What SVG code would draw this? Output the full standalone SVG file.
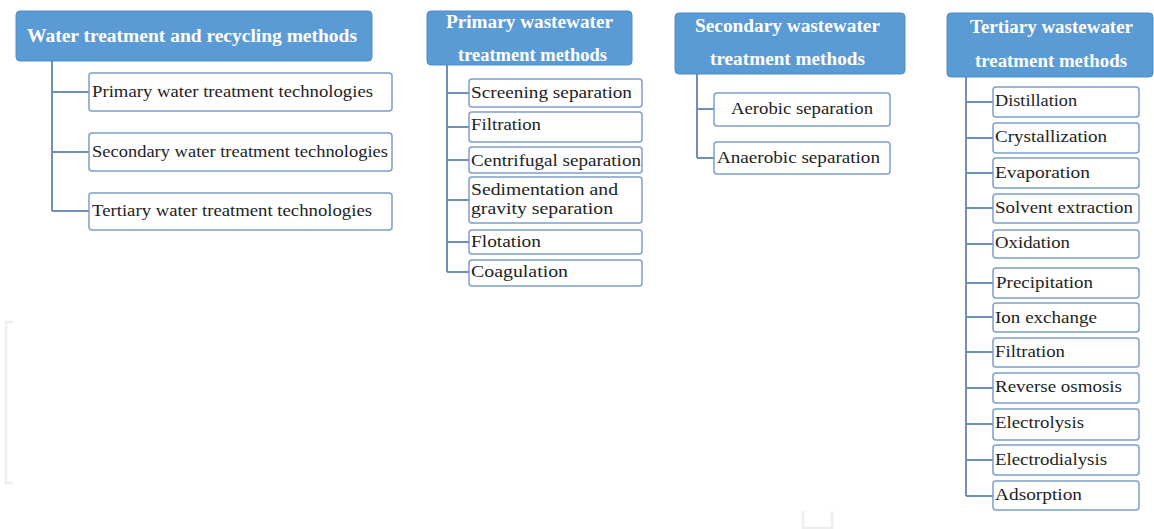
<svg xmlns="http://www.w3.org/2000/svg" width="1154" height="529" viewBox="0 0 1154 529">
<style>
.hdr{fill:#5b9bd5;stroke:#4f8cc6;stroke-width:1}
.ht{font-family:"Liberation Serif","DejaVu Serif",serif;font-weight:bold;font-size:18.5px;fill:#ffffff;text-anchor:middle}
.box{fill:#ffffff;stroke:#7d9fca;stroke-width:1.5}
.bt{font-family:"Liberation Serif","DejaVu Serif",serif;font-size:17.5px;fill:#1e1e1e}
.ln{fill:none;stroke:#6e8fbb;stroke-width:2}
.faint{fill:none;stroke:#eeeeee;stroke-width:2.5}
</style>
<rect width="1154" height="529" fill="#ffffff"/>
<g id="artifacts">
<path class="faint" d="M13 322 H6 V483 H13"/>
<path class="faint" d="M803 511 V528 H832 V511"/>
</g>
<g id="connectors">
<path class="ln" d="M52 61 V211 M52 92 H89 M52 152 H89 M52 211 H89"/>
<path class="ln" d="M447 65 V272 M447 93 H469 M447 127 H469 M447 160 H469 M447 200 H469 M447 242 H469 M447 272 H469"/>
<path class="ln" d="M697 74 V158 M697 109 H714 M697 158 H714"/>
<path class="ln" d="M966 77 V496 M966 102 H993 M966 138 H993 M966 173 H993 M966 208 H993 M966 244 H993 M966 283 H993 M966 317 H993 M966 352 H993 M966 388 H993 M966 424 H993 M966 460 H993 M966 496 H993"/>
</g>
<g id="n-water">
<rect class="hdr" x="16" y="11" width="356" height="50" rx="4"/>
<text class="ht" x="192" y="42" textLength="330" lengthAdjust="spacingAndGlyphs">Water treatment and recycling methods</text>
</g>
<g id="n-primary-tech"><rect class="box" x="89" y="73" width="303" height="38" rx="3"/><text class="bt" x="92" y="97" textLength="281" lengthAdjust="spacingAndGlyphs">Primary water treatment technologies</text></g>
<g id="n-secondary-tech"><rect class="box" x="89" y="133" width="303" height="38" rx="3"/><text class="bt" x="92" y="157" textLength="296" lengthAdjust="spacingAndGlyphs">Secondary water treatment technologies</text></g>
<g id="n-tertiary-tech"><rect class="box" x="89" y="193" width="303" height="37" rx="3"/><text class="bt" x="92" y="216" textLength="280" lengthAdjust="spacingAndGlyphs">Tertiary water treatment technologies</text></g>

<g id="n-primary-ww">
<rect class="hdr" x="427" y="11" width="205" height="54" rx="4"/>
<text class="ht" x="529.5" y="28" textLength="167" lengthAdjust="spacingAndGlyphs">Primary wastewater</text>
<text class="ht" x="532.5" y="61" textLength="149" lengthAdjust="spacingAndGlyphs">treatment methods</text>
</g>
<g id="n-screening"><rect class="box" x="469" y="79" width="173" height="28" rx="3"/><text class="bt" x="471" y="98" textLength="161" lengthAdjust="spacingAndGlyphs">Screening separation</text></g>
<g id="n-filtration1"><rect class="box" x="469" y="112" width="173" height="30" rx="3"/><text class="bt" x="471" y="130" textLength="70" lengthAdjust="spacingAndGlyphs">Filtration</text></g>
<g id="n-centrifugal"><rect class="box" x="469" y="147" width="173" height="26" rx="3"/><text class="bt" x="471" y="166" textLength="170" lengthAdjust="spacingAndGlyphs">Centrifugal separation</text></g>
<g id="n-sedimentation"><rect class="box" x="469" y="177" width="173" height="46" rx="3"/><text class="bt" x="471" y="195" textLength="147" lengthAdjust="spacingAndGlyphs">Sedimentation and</text><text class="bt" x="471" y="214" textLength="142" lengthAdjust="spacingAndGlyphs">gravity separation</text></g>
<g id="n-flotation"><rect class="box" x="469" y="230" width="173" height="24" rx="3"/><text class="bt" x="471" y="247" textLength="70" lengthAdjust="spacingAndGlyphs">Flotation</text></g>
<g id="n-coagulation"><rect class="box" x="469" y="260" width="173" height="26" rx="3"/><text class="bt" x="471" y="277" textLength="97" lengthAdjust="spacingAndGlyphs">Coagulation</text></g>

<g id="n-secondary-ww">
<rect class="hdr" x="675" y="13" width="230" height="61" rx="4"/>
<text class="ht" x="787.5" y="32" textLength="185" lengthAdjust="spacingAndGlyphs">Secondary wastewater</text>
<text class="ht" x="787.5" y="65" textLength="155" lengthAdjust="spacingAndGlyphs">treatment methods</text>
</g>
<g id="n-aerobic"><rect class="box" x="714" y="93" width="176" height="33" rx="3"/><text class="bt" x="731" y="114" textLength="142" lengthAdjust="spacingAndGlyphs">Aerobic separation</text></g>
<g id="n-anaerobic"><rect class="box" x="714" y="142" width="176" height="32" rx="3"/><text class="bt" x="717" y="163" textLength="163" lengthAdjust="spacingAndGlyphs">Anaerobic separation</text></g>

<g id="n-tertiary-ww">
<rect class="hdr" x="947" y="13" width="206" height="64" rx="4"/>
<text class="ht" x="1051.5" y="33" textLength="163" lengthAdjust="spacingAndGlyphs">Tertiary wastewater</text>
<text class="ht" x="1051" y="67" textLength="152" lengthAdjust="spacingAndGlyphs">treatment methods</text>
</g>
<g id="n-distillation"><rect class="box" x="993" y="87" width="146" height="30" rx="3"/><text class="bt" x="995" y="106" textLength="82" lengthAdjust="spacingAndGlyphs">Distillation</text></g>
<g id="n-crystallization"><rect class="box" x="993" y="123" width="146" height="30" rx="3"/><text class="bt" x="995" y="142" textLength="112" lengthAdjust="spacingAndGlyphs">Crystallization</text></g>
<g id="n-evaporation"><rect class="box" x="993" y="158" width="146" height="30" rx="3"/><text class="bt" x="995" y="178" textLength="95" lengthAdjust="spacingAndGlyphs">Evaporation</text></g>
<g id="n-solvent"><rect class="box" x="993" y="194" width="146" height="29" rx="3"/><text class="bt" x="995" y="213" textLength="138" lengthAdjust="spacingAndGlyphs">Solvent extraction</text></g>
<g id="n-oxidation"><rect class="box" x="993" y="230" width="146" height="28" rx="3"/><text class="bt" x="995" y="248" textLength="75" lengthAdjust="spacingAndGlyphs">Oxidation</text></g>
<g id="n-precipitation"><rect class="box" x="993" y="268" width="146" height="30" rx="3"/><text class="bt" x="996" y="288" textLength="97" lengthAdjust="spacingAndGlyphs">Precipitation</text></g>
<g id="n-ion"><rect class="box" x="993" y="303" width="146" height="29" rx="3"/><text class="bt" x="995" y="323" textLength="102" lengthAdjust="spacingAndGlyphs">Ion exchange</text></g>
<g id="n-filtration2"><rect class="box" x="993" y="338" width="146" height="29" rx="3"/><text class="bt" x="995" y="357" textLength="70" lengthAdjust="spacingAndGlyphs">Filtration</text></g>
<g id="n-ro"><rect class="box" x="993" y="373" width="146" height="30" rx="3"/><text class="bt" x="995" y="392" textLength="127" lengthAdjust="spacingAndGlyphs">Reverse osmosis</text></g>
<g id="n-electrolysis"><rect class="box" x="993" y="409" width="146" height="31" rx="3"/><text class="bt" x="995" y="428" textLength="89" lengthAdjust="spacingAndGlyphs">Electrolysis</text></g>
<g id="n-electrodialysis"><rect class="box" x="993" y="445" width="146" height="30" rx="3"/><text class="bt" x="995" y="465" textLength="112" lengthAdjust="spacingAndGlyphs">Electrodialysis</text></g>
<g id="n-adsorption"><rect class="box" x="993" y="481" width="146" height="29" rx="3"/><text class="bt" x="995" y="500" textLength="87" lengthAdjust="spacingAndGlyphs">Adsorption</text></g>
</svg>
